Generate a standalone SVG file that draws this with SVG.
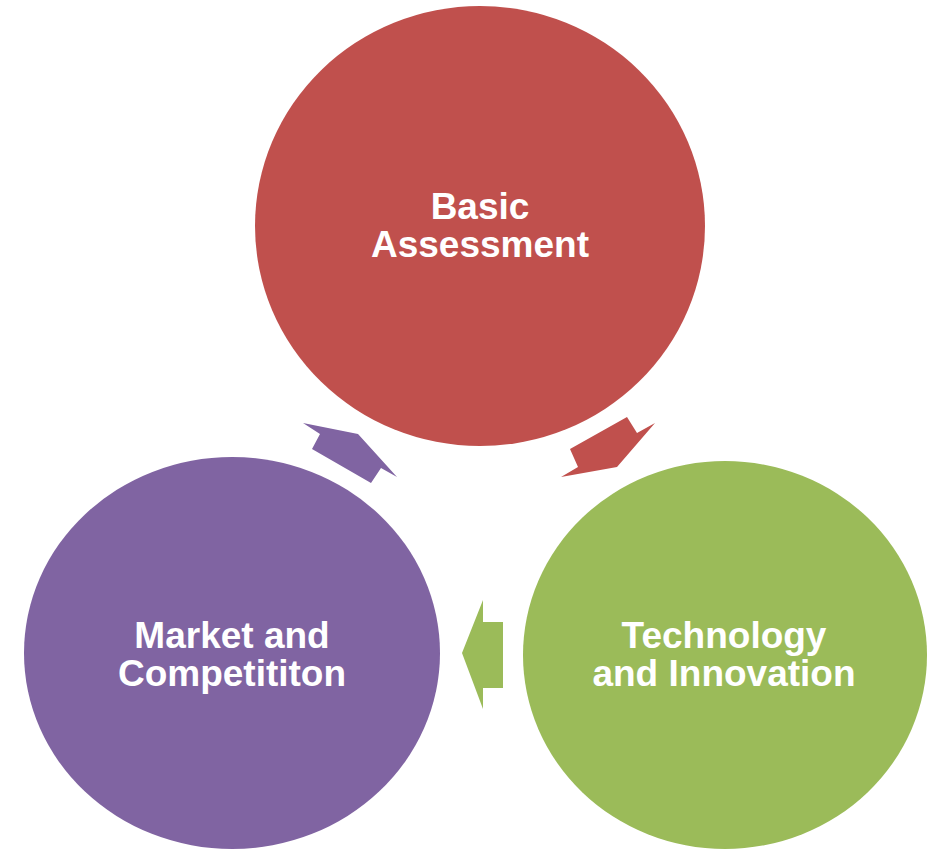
<svg xmlns="http://www.w3.org/2000/svg" width="939" height="850" viewBox="0 0 939 850">
<style>
.lbl{font-family:"Liberation Sans",Arial,sans-serif;font-weight:bold;font-size:37px;fill:#fff;text-anchor:middle}
</style>
<rect width="939" height="850" fill="#fff"/>
<g id="connectors">
<polygon fill="#C0504D" points="570,449 627,417 637,433 655,423 617,467 561,477 578,467"/>
<polygon fill="#9BBB59" points="503,622 483,622 483,600 462,653 483,709 483,688 503,688"/>
<polygon fill="#8064A2" points="303,423 358,434 397,477 381,468 371,483 312,449 320,434"/>
</g>
<g id="basic">
<ellipse cx="480" cy="226" rx="225" ry="220" fill="#C0504D"/>
<text class="lbl" x="480" y="219">Basic</text>
<text class="lbl" x="480" y="257">Assessment</text>
</g>
<g id="tech">
<ellipse cx="725" cy="655" rx="202" ry="194" fill="#9BBB59"/>
<text class="lbl" x="724" y="648">Technology</text>
<text class="lbl" x="724" y="686">and Innovation</text>
</g>
<g id="market">
<ellipse cx="232" cy="653" rx="208" ry="196" fill="#8064A2"/>
<text class="lbl" x="232" y="648">Market and</text>
<text class="lbl" x="232" y="686">Competititon</text>
</g>
</svg>
